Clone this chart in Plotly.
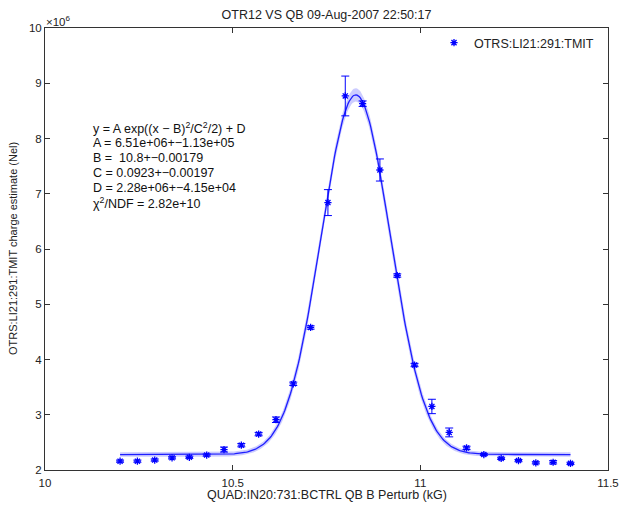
import numpy as np
import plotly.graph_objects as go

# Data (charge in units of 1e6 Nel)
x_kG = [10.2, 10.2462, 10.2923, 10.3385, 10.3846, 10.4308, 10.4769, 10.5231, 10.5692,
        10.6154, 10.6615, 10.7077, 10.7538, 10.8, 10.8462, 10.8923, 10.9385, 10.9846,
        11.0308, 11.0769, 11.1231, 11.1692, 11.2154, 11.2615, 11.3077, 11.3538, 11.4]
tmit = [2.16, 2.16, 2.18, 2.22, 2.23, 2.27, 2.37, 2.45, 2.65,
        2.91, 3.56, 4.58, 6.84, 8.77, 8.63, 7.43, 5.52, 3.90,
        3.15, 2.68, 2.40, 2.28, 2.21, 2.17, 2.13, 2.14, 2.12]
tmit_err = [0.02, 0.02, 0.02, 0.02, 0.02, 0.02, 0.045, 0.03, 0.03,
            0.05, 0.03, 0.03, 0.235, 0.36, 0.05, 0.2, 0.03, 0.03,
            0.13, 0.08, 0.03, 0.02, 0.02, 0.02, 0.02, 0.03, 0.02]

x_ticks = [10, 10.5, 11, 11.5]
x_ticklabels = ["10", "10.5", "11", "11.5"]
y_ticks = [2, 3, 4, 5, 6, 7, 8, 9, 10]

# Fit parameters (A, D in units of 1e6)
A, dA = 6.51, 0.113
B, dB = 10.828, 0.00179
C, dC = 0.0923, 0.00197
D, dD = 2.28, 0.0415

fit_lines = [
    "y = A exp((x − B)<sup>2</sup>/C<sup>2</sup>/2) + D",
    "A = 6.51e+06+−1.13e+05",
    "B =  10.8+−0.00179",
    "C = 0.0923+−0.00197",
    "D = 2.28e+06+−4.15e+04",
    "χ<sup>2</sup>/NDF = 2.82e+10",
]

xf = np.linspace(min(x_kG), max(x_kG), 400)
g = np.exp(-(xf - B) ** 2 / (2 * C ** 2))
yf = A * g + D
sig = np.sqrt((dA * g) ** 2 + (A * g * (xf - B) / C ** 2 * dB) ** 2
              + (A * g * (xf - B) ** 2 / C ** 3 * dC) ** 2 + dD ** 2)

blue = "rgb(0,0,255)"
font = "Liberation Sans, Arial, sans-serif"

L, R, T, Bm = 45, 12, 28, 36
W, H = 620, 506
pw, ph = W - L - R, H - T - Bm

fig = go.Figure()
fig.add_trace(go.Scatter(x=np.concatenate([xf, xf[::-1]]),
                         y=np.concatenate([yf + sig, (yf - sig)[::-1]]),
                         fill="toself", fillcolor="rgba(110,110,255,0.35)",
                         line=dict(width=0), hoverinfo="skip", showlegend=False))
fig.add_trace(go.Scatter(x=xf, y=yf, mode="lines",
                         line=dict(color="rgb(30,30,255)", width=1.3), showlegend=False))
fig.add_trace(go.Scatter(x=x_kG, y=tmit, mode="markers", name="OTRS:LI21:291:TMIT",
                         marker=dict(symbol="asterisk-open", size=6, color=blue,
                                     line=dict(color=blue, width=1.3)),
                         error_y=dict(type="data", array=tmit_err, color=blue,
                                      thickness=1, width=4)))

axis_common = dict(showline=True, linecolor="#333", linewidth=1, mirror="ticks",
                   ticks="inside", ticklen=5, tickcolor="#333", showgrid=False,
                   zeroline=False, automargin=False, ticklabeloverflow="allow",
                   tickfont=dict(family=font, size=11.5, color="#222"))

fig.update_layout(
    width=W, height=H,
    margin=dict(l=L, r=R, t=T, b=Bm),
    paper_bgcolor="white", plot_bgcolor="white",
    font=dict(family=font, size=12, color="#222"),
    title=dict(text="OTR12 VS QB 09-Aug-2007 22:50:17", x=(L + pw / 2) / W, xanchor="center",
               y=1 - 15 / H, yanchor="middle", font=dict(size=12.5, family=font)),
    xaxis=dict(range=[10, 11.5], tickvals=x_ticks, ticktext=x_ticklabels,
               ticklabelstandoff=2, **axis_common),
    yaxis=dict(range=[2, 10], tickvals=y_ticks, **axis_common),
    legend=dict(x=(434 - L) / pw, xanchor="left", y=1, yanchor="top",
                bgcolor="rgba(255,255,255,0)",
                font=dict(size=12.5, family=font), borderwidth=0),
)

# axis titles
fig.add_annotation(xref="paper", yref="paper", x=0.5, y=-(495 - (T + ph)) / ph,
                   xanchor="center", yanchor="middle", showarrow=False,
                   text="QUAD:IN20:731:BCTRL QB B Perturb (kG)",
                   font=dict(size=12.5, family=font))
fig.add_annotation(xref="paper", yref="paper", x=(13 - L) / pw, y=0.5,
                   xanchor="center", yanchor="middle", showarrow=False, textangle=-90,
                   text="OTRS:LI21:291:TMIT charge estimate (Nel)",
                   font=dict(size=11, family=font))

fig.add_annotation(xref="paper", yref="paper", x=-0.002, y=1.0, xanchor="left",
                   yanchor="bottom", yshift=-2, text="×10<sup>6</sup>", showarrow=False,
                   font=dict(size=11.5, family=font))

for i, line in enumerate(fit_lines):
    ypix = 128 + 15 * i
    fig.add_annotation(xref="paper", yref="paper", x=(91 - L) / pw,
                       y=(T + ph - ypix) / ph, xanchor="left", yanchor="middle",
                       text=line, showarrow=False, align="left",
                       font=dict(size=12.5, family=font, color="#111"))

fig.write_html("out.html", config={"displayModeBar": False},
               post_script="document.body.style.margin='0';")
